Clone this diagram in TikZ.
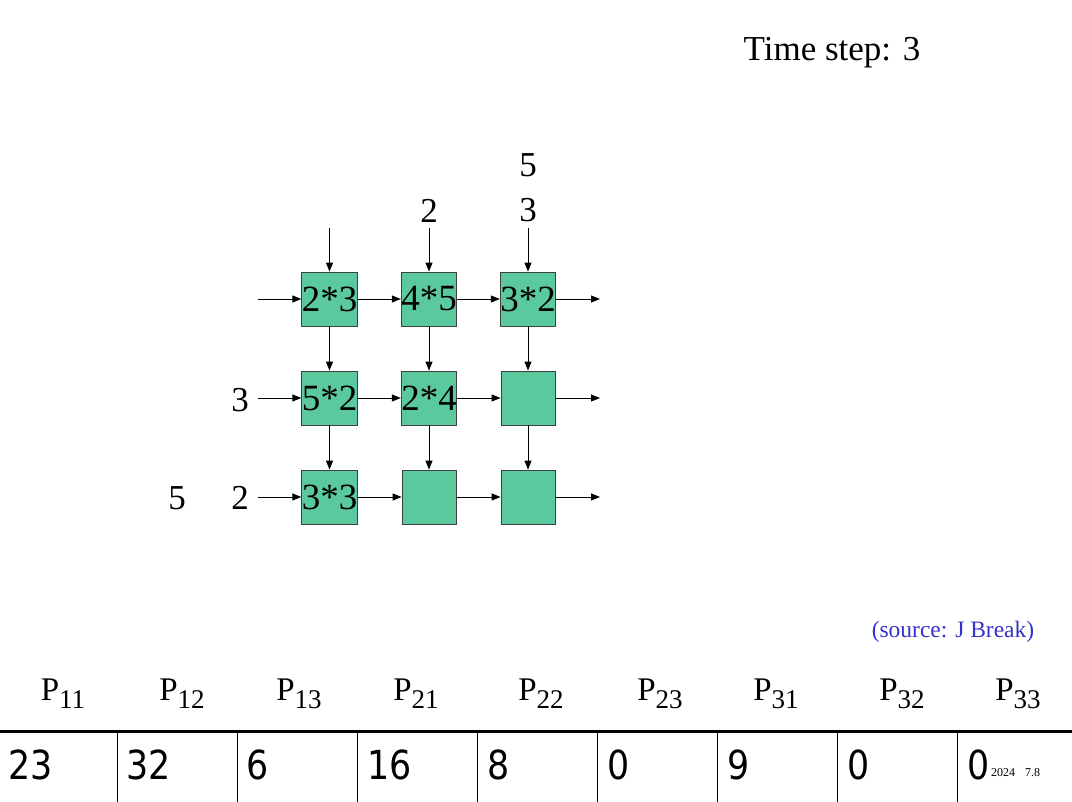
\documentclass[tikz,border=0pt]{standalone}
\usepackage{fontspec}
\setmainfont{Liberation Serif}
\newfontfamily\numfont[FakeStretch=0.87]{DejaVu Sans}
\usetikzlibrary{arrows.meta}
\definecolor{cellgreen}{RGB}{91,201,158}
\definecolor{srcblue}{RGB}{51,51,204}
\newcommand{\psub}[1]{P\raisebox{-8pt}{\fontsize{27}{30}\selectfont #1}}
\begin{document}
\begin{tikzpicture}[x=1pt,y=-1pt,
  cell/.style={draw=black!75,fill=cellgreen,line width=0.8pt,minimum size=54pt,inner sep=0pt,font=\fontsize{37}{40}\selectfont},
  lbl/.style={inner sep=0pt,font=\fontsize{35}{40}\selectfont},
  conn/.style={line width=0.9pt,-{Triangle[length=9pt,width=7pt]}},
  plbl/.style={inner sep=0pt,font=\fontsize{33}{36}\selectfont,anchor=base},
  val/.style={inner sep=0pt,font=\numfont\fontsize{40}{44}\selectfont,anchor=base west},
  grid/.style={line width=1pt}]
\useasboundingbox (0,0) rectangle (1072,802);
\fill[white] (0,0) rectangle (1072,802);

\node[lbl] (title) at (832,53) {Time step: 3};

% cells
\node[cell] (c11) at (329.5,299) {2*3};
\node[cell] (c12) at (429,299) {4*5};
\node[cell] (c13) at (528,299) {3*2};
\node[cell] (c21) at (329.5,398) {5*2};
\node[cell] (c22) at (429,398) {2*4};
\node[cell] (c23) at (528,398) {};
\node[cell] (c31) at (329.5,497) {3*3};
\node[cell] (c32) at (429,497) {};
\node[cell] (c33) at (528,497) {};

% input labels
\node[lbl] (t2) at (429,211) {2};
\node[lbl] (t3) at (528,210) {3};
\node[lbl] (t5) at (528,165) {5};
\node[lbl] (l3) at (240,400) {3};
\node[lbl] (l2) at (240,498) {2};
\node[lbl] (l5) at (177,498) {5};

% free ends
\coordinate (v1) at (329.5,228);
\coordinate (v2) at (429,228);
\coordinate (v3) at (528,228);
\coordinate (h1) at (258,299);
\coordinate (h2) at (258,398);
\coordinate (h3) at (258,497);
\coordinate (o1) at (600,299);
\coordinate (o2) at (600,398);
\coordinate (o3) at (600,497);

% vertical connectors
\draw[conn] (v1) -- (c11.north);
\draw[conn] (v2) -- (c12.north);
\draw[conn] (v3) -- (c13.north);
\draw[conn] (c11.south) -- (c21.north);
\draw[conn] (c12.south) -- (c22.north);
\draw[conn] (c13.south) -- (c23.north);
\draw[conn] (c21.south) -- (c31.north);
\draw[conn] (c22.south) -- (c32.north);
\draw[conn] (c23.south) -- (c33.north);

% horizontal connectors
\draw[conn] (h1) -- (c11.west);
\draw[conn] (h2) -- (c21.west);
\draw[conn] (h3) -- (c31.west);
\draw[conn] (c11.east) -- (c12.west);
\draw[conn] (c12.east) -- (c13.west);
\draw[conn] (c21.east) -- (c22.west);
\draw[conn] (c22.east) -- (c23.west);
\draw[conn] (c31.east) -- (c32.west);
\draw[conn] (c32.east) -- (c33.west);
\draw[conn] (c13.east) -- (o1);
\draw[conn] (c23.east) -- (o2);
\draw[conn] (c33.east) -- (o3);

% source
\node[inner sep=0pt,text=srcblue,font=\fontsize{23.5}{26}\selectfont] (src) at (953,632) {(source: J Break)};

% table header
\node[plbl] (p11) at (63,700) {\psub{11}};
\node[plbl] (p12) at (182,700) {\psub{12}};
\node[plbl] (p13) at (299,700) {\psub{13}};
\node[plbl] (p21) at (416,700) {\psub{21}};
\node[plbl] (p22) at (541,700) {\psub{22}};
\node[plbl] (p23) at (660,700) {\psub{23}};
\node[plbl] (p31) at (776,700) {\psub{31}};
\node[plbl] (p32) at (902,700) {\psub{32}};
\node[plbl] (p33) at (1018,700) {\psub{33}};

% table lines
\draw[line width=3pt] (0,731.5) -- (1072,731.5);
\foreach \x in {117,237,357,477,597,717,837,957}
  \draw[grid] (\x,733) -- (\x,802);

% values
\node[val] (n1) at (8,779) {23};
\node[val] (n2) at (126,779) {32};
\node[val] (n3) at (246,779) {6};
\node[val] (n4) at (367,779) {16};
\node[val] (n5) at (487,779) {8};
\node[val] (n6) at (607,779) {0};
\node[val] (n7) at (727,779) {9};
\node[val] (n8) at (847,779) {0};
\node[val] (n9) at (967,779) {0};

\node[inner sep=0pt,anchor=base west,font=\fontsize{12}{14}\selectfont] (foot) at (991,776) {2024\hspace{10pt}7.8};
\end{tikzpicture}
\end{document}
